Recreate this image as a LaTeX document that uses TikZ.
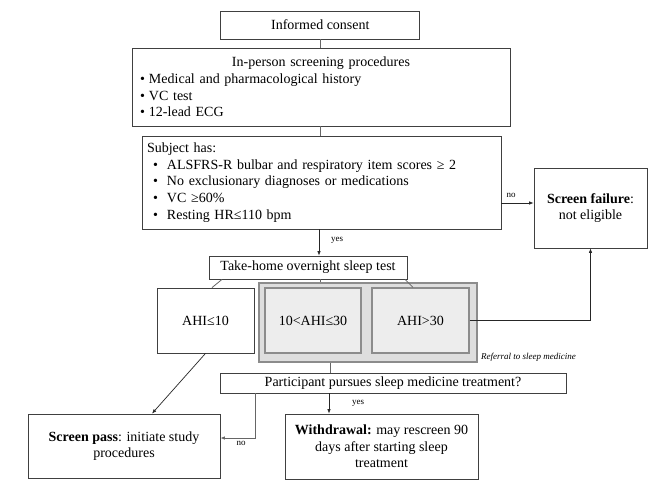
\documentclass[tikz,border=0pt]{standalone}
\usepackage{fontspec}
\setmainfont{Liberation Serif}
\usetikzlibrary{arrows.meta,calc}
\newcommand\mfs{\fontsize{14}{16.7}\selectfont}
\begin{document}
\begin{tikzpicture}[x=1pt,y=-1pt,
  box/.style={draw=black!75, line width=0.8pt, inner sep=0pt, font=\mfs, align=center},
  gbox/.style={draw=black!45, line width=1.2pt, fill=black!7, inner sep=0pt, font=\mfs, align=center},
  grpbox/.style={draw=black!45, line width=1.2pt, fill=black!13, inner sep=0pt},
  conn/.style={draw=black!60, line width=0.8pt},
  arr/.style={draw=black!85, line width=0.7pt, -{Latex[length=4.5pt,width=3.5pt]}},
  garr/.style={draw=black!60, line width=0.8pt, -{Latex[length=4.5pt,width=3.5pt]}},
  lbl/.style={font=\fontsize{9}{10}\selectfont, inner sep=0pt}]
\useasboundingbox[fill=white] (0,0) rectangle (664,480);

\node[box, minimum width=199, minimum height=28] (consent) at (320.35,25) {Informed consent};

\node[box, minimum width=378, minimum height=78, text width=362, align=left] (ip) at (321,87)
 {\makebox[362pt]{In-person screening procedures}\\
  \makebox[9pt][l]{\textbullet}Medical and pharmacological history\\
  \makebox[9pt][l]{\textbullet}VC test\\
  \makebox[9pt][l]{\textbullet}12-lead ECG};

\node[box, minimum width=359, minimum height=93, text width=349, align=left] (subj) at (321.5,182.5)
 {Subject has:\\
  \hspace*{6pt}\makebox[14pt][l]{\textbullet}ALSFRS-R bulbar and respiratory item scores ≥ 2\\
  \hspace*{6pt}\makebox[14pt][l]{\textbullet}No exclusionary diagnoses or medications\\
  \hspace*{6pt}\makebox[14pt][l]{\textbullet}VC ≥60\%\\
  \hspace*{6pt}\makebox[14pt][l]{\textbullet}Resting HR≤110 bpm};

\node[box, minimum width=113, minimum height=80] (fail) at (590.5,208)
 {\textbf{Screen failure}:\\not eligible};

\node[box, minimum width=198, minimum height=23] (sleep) at (308,267.5) {Take-home overnight sleep test};

\node[box, minimum width=97, minimum height=65] (ahi1) at (205.5,320.5) {AHI≤10};
\node[grpbox, minimum width=218, minimum height=79] (grp) at (368,322.5) {};
\node[gbox, minimum width=96, minimum height=65] (ahi2) at (313,320.5) {10<AHI≤30};
\node[gbox, minimum width=97, minimum height=65] (ahi3) at (420.5,320.5) {AHI>30};
\node[font=\itshape\fontsize{9}{10}\selectfont, anchor=west, inner sep=0pt] (ref) at (481,357) {Referral to sleep medicine};

\node[box, minimum width=346, minimum height=20] (part) at (393,383) {Participant pursues sleep medicine treatment?};

\node[box, minimum width=192, minimum height=64] (pass) at (124,446)
 {\textbf{Screen pass}: initiate study\\procedures};
\node[box, minimum width=193, minimum height=65] (wd) at (381.5,446.5)
 {\textbf{Withdrawal:} may rescreen 90\\days after starting sleep\\treatment};

% connectors
\draw[conn] (consent.south) -- (consent.south |- ip.north);
\draw[conn] (consent.south |- ip.south) -- (consent.south |- subj.north);
\draw[arr] ([xshift=-2.5pt]subj.south) -- ([xshift=-2.5pt]subj.south |- sleep.north);
\node[lbl, anchor=west] (yes1) at (331,240) {yes};
\draw[arr] ([yshift=-20.5pt]subj.east) -- ([yshift=-20.5pt]subj.east -| fail.west);
\node[lbl] (no1) at (511,195) {no};

\draw[conn] ([xshift=-86pt]sleep.south) -- ([xshift=6.5pt]ahi1.north);
\draw[conn] ([xshift=12pt]sleep.south) -- ([xshift=12pt]sleep.south |- grp.north);
\draw[conn] ([xshift=97pt]sleep.south) -- ([xshift=-7.5pt]ahi3.north);

\draw[arr] (ahi3.east) -| (fail.south);
\draw[conn] ([xshift=-38pt]grp.south) -- ([xshift=-38pt]grp.south |- part.north);
\draw[arr] (ahi1.south) -- ([xshift=28pt]pass.north);

\draw[garr] ([xshift=-138pt]part.south) |- ([yshift=8pt]pass.east);
\node[lbl] (no2) at (241,443) {no};
\draw[arr] ([xshift=-64pt]part.south) -- ([xshift=-64pt]part.south |- wd.north);
\node[lbl] (yes2) at (358,403) {yes};
\end{tikzpicture}
\end{document}
